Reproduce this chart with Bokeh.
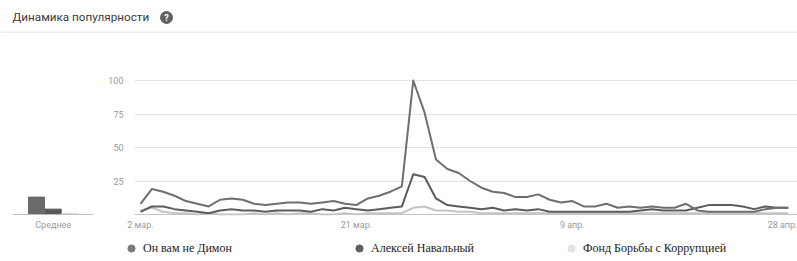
from bokeh.plotting import figure
from bokeh.models import Range1d, FixedTicker, Span, Legend, LegendItem, Label
from bokeh.layouts import column, row
from bokeh.embed import file_html
from bokeh.resources import INLINE

# ---------------- data ----------------
title_text = "Динамика популярности"
series_names = ["Он вам не Димон", "Алексей Навальный", "Фонд Борьбы с Коррупцией"]
days = list(range(58))  # 2 мар. .. 28 апр.
tick_days = [0, 19, 38, 57]
tick_labels = ["2 мар.", "21 мар.", "9 апр.", "28 апр."]

dimon = [8, 19, 17, 14, 10, 8, 6, 11, 12, 11,
         8, 7, 8, 9, 9, 8, 9, 10, 8, 7,
         12, 14, 17, 21, 100, 76, 41, 34, 31, 25,
         20, 17, 16, 13, 13, 15, 11, 9, 10, 6,
         6, 8, 5, 6, 5, 6, 5, 5, 8, 3,
         2, 2, 2, 2, 2, 4, 5, 5]
navalny = [2, 6, 6, 4, 3, 2, 1, 3, 4, 3,
           3, 2, 3, 3, 3, 2, 4, 3, 5, 4,
           3, 4, 5, 6, 30, 28, 12, 7, 6, 5,
           4, 5, 3, 4, 3, 4, 2, 2, 2, 2,
           2, 2, 2, 2, 3, 4, 3, 3, 3, 5,
           7, 7, 7, 6, 4, 6, 5, 5]
fbk = [3, 5, 2, 1, 1, 0, 1, 0, 0, 0,
       1, 0, 1, 0, 1, 1, 0, 0, 1, 0,
       1, 1, 1, 1, 5, 6, 3, 3, 2, 2,
       1, 1, 1, 1, 1, 1, 1, 1, 1, 1,
       1, 1, 1, 1, 1, 1, 1, 1, 1, 1,
       1, 1, 1, 1, 1, 1, 1, 1]
avg_label = "Среднее"
avg_values = [13, 4, 1]
y_ticks = [25, 50, 75, 100]

line_colors = ["#6f6f6f", "#5c5c5c", "#c4c4c4"]
bar_colors = ["#6a6a6a", "#575757", "#dddddd"]
dot_colors = ["#7a7a7a", "#5f5f5f", "#e3e3e3"]

AX_FONT = "Roboto"
AX_SIZE = "9px"
AX_COLOR = "#9a9a9a"


def clean(fig):
    fig.outline_line_color = None
    fig.background_fill_color = "white"
    fig.border_fill_color = "white"


# ---------------- title strip ----------------
tf = figure(width=797, height=33, x_range=Range1d(0, 797), y_range=Range1d(0, 33),
            min_border=0, x_axis_location=None, y_axis_location=None,
            toolbar_location=None, output_backend="svg")
clean(tf)
tf.grid.visible = False
tf.add_layout(Label(x=12, y=17, text=title_text, text_font="Roboto",
                    text_font_size="11.7px", text_color="#3a3a3a",
                    text_baseline="middle"))
tf.scatter(x=[166], y=[16], size=12, color="#616161")
tf.add_layout(Label(x=166, y=16, text="?", text_font="Roboto",
                    text_font_size="9px", text_font_style="bold",
                    text_color="white", text_align="center",
                    text_baseline="middle"))
tf.add_layout(Span(location=1, dimension="width", line_color="#eeeeee",
                   line_width=2))

# ---------------- shared y range ----------------
yr = Range1d(-0.75, 103)

# ---------------- left averages ----------------
lf = figure(width=105, height=201, x_range=Range1d(-1.437, 3.413), y_range=yr,
            min_border_left=12, min_border_right=12, min_border_top=43,
            min_border_bottom=19, y_axis_location=None,
            toolbar_location=None, output_backend="svg")
clean(lf)
lf.grid.visible = False
lf.vbar(x=[0, 1, 2], top=avg_values, width=0.96, color=bar_colors)
lf.add_layout(Span(location=0, dimension="width", line_color="#bdbdbd",
                   line_width=1))
lf.xaxis.ticker = FixedTicker(ticks=[1])
lf.xaxis.major_label_overrides = {1: avg_label}
lf.xaxis.axis_line_color = None
lf.xaxis.major_tick_line_color = None
lf.xaxis.minor_tick_line_color = None
lf.xaxis.major_label_standoff = -2
lf.xaxis.major_label_text_font = AX_FONT
lf.xaxis.major_label_text_font_size = AX_SIZE
lf.xaxis.major_label_text_color = AX_COLOR

# ---------------- main chart ----------------
p = figure(width=692, height=201, x_range=Range1d(-0.526, 57.81), y_range=yr,
           min_border_left=27, min_border_right=0, min_border_top=43,
           min_border_bottom=19, toolbar_location=None, output_backend="svg")
clean(p)
p.xgrid.visible = False
p.ygrid.ticker = FixedTicker(ticks=y_ticks)
p.ygrid.grid_line_color = "#e3e3e3"
p.ygrid.grid_line_width = 1
p.add_layout(Span(location=0, dimension="width", line_color="#c4c4c4",
                  line_width=1))

for vals, col in [(fbk, line_colors[2]), (navalny, line_colors[1]), (dimon, line_colors[0])]:
    p.line(x=days, y=vals, line_color=col, line_width=2, line_join="round")

p.yaxis.ticker = FixedTicker(ticks=y_ticks)
p.xaxis.ticker = FixedTicker(ticks=tick_days)
p.xaxis.major_label_overrides = dict(zip(tick_days, tick_labels))
for ax in (p.xaxis, p.yaxis):
    ax.axis_line_color = None
    ax.major_tick_line_color = None
    ax.minor_tick_line_color = None
    ax.major_label_text_font = AX_FONT
    ax.major_label_text_font_size = AX_SIZE
    ax.major_label_text_color = AX_COLOR
p.xaxis.major_label_standoff = -2
p.yaxis.major_label_standoff = 5

# ---------------- legend strip ----------------
lg = figure(width=797, height=27, x_range=Range1d(0, 1), y_range=Range1d(0, 1),
            min_border=0, x_axis_location=None, y_axis_location=None,
            toolbar_location=None, output_backend="svg")
clean(lg)
lg.grid.visible = False
legend_x = [122, 350, 562]
for name, col, lx in zip(series_names, dot_colors, legend_x):
    # marker placed outside the visible range: only its legend swatch shows
    r = lg.scatter(x=[-5], y=[-5], size=7, color=col)
    leg = Legend(items=[LegendItem(label=name, renderers=[r])], location=(lx, 4),
                 padding=0, margin=0, border_line_color=None,
                 background_fill_alpha=0, glyph_width=18, glyph_height=18,
                 label_standoff=3, label_text_font="Liberation Serif",
                 label_text_font_size="12px", label_text_color="#222222",
                 label_text_baseline="middle")
    lg.add_layout(leg)

layout = column(tf, row(lf, p, spacing=0), lg, spacing=0)
open("out.html", "w").write(file_html(layout, INLINE))
